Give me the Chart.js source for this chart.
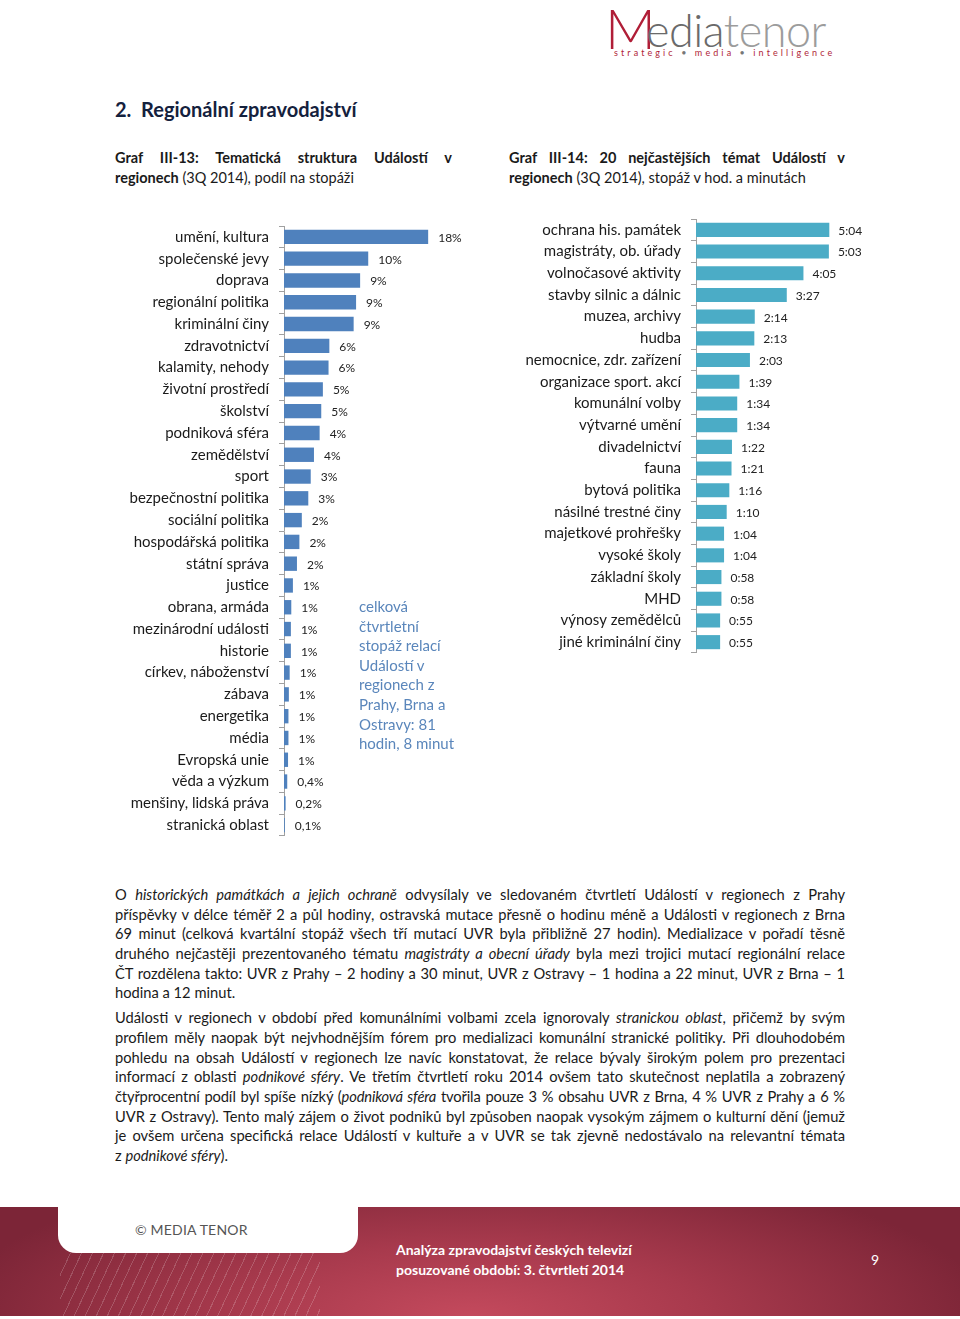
<!DOCTYPE html>
<html lang="cs">
<head>
<meta charset="utf-8">
<title>Regionální zpravodajství</title>
<script src="https://cdn.jsdelivr.net/npm/chart.js@4.4.0/dist/chart.umd.min.js"></script>
<style>
  html, body { margin: 0; padding: 0; background: #fff; }
  body { width: 960px; height: 1319px; position: relative; overflow: hidden; font-family: Lato, "Open Sans", sans-serif; color: #1a1a1a; }
  .abs { position: absolute; }
  #logo { left: 600px; top: 0px; width: 250px; height: 60px; }
  #logo .m { position: absolute; left: 5px; top: -6px; font-size: 56px; font-weight: 300; color: #b01e37; font-family: Lato, sans-serif; letter-spacing: -2px; }
  #logo .word { position: absolute; left: 46px; top: 3px; font-size: 45px; font-weight: 300; letter-spacing: -0.5px; }
  #logo .word .a { color: #6a6a6a; }
  #logo .word .b { color: #9c9c9c; }
  #logo .tag { position: absolute; left: 14px; top: 47px; font-size: 9px; letter-spacing: 3.1px; color: #b01e37; white-space: nowrap; }
  #logo .tag span { color: #777; }
  h1 { position: absolute; left: 115px; top: 97px; margin: 0; font-size: 20px; font-weight: 700; color: #14213d; }
  .cap { position: absolute; font-size: 14.5px; line-height: 20px; }
  .cap .l1 { text-align: justify; text-align-last: justify; white-space: nowrap; }
  .canvasBox { position: absolute; }
  #note { left: 359px; top: 597px; width: 130px; font-size: 15px; line-height: 19.6px; color: #5a86bb; white-space: nowrap; }
  #text { left: 115px; top: 885px; width: 730px; font-size: 14.7px; line-height: 19.7px; color: #1a1a1a; }
  #text .ln { text-align: justify; text-align-last: justify; white-space: nowrap; height: 19.7px; }
  #text .end { text-align-last: left; }
  #text .gap { height: 5px; }
  #footer { left: 0; top: 1207px; width: 960px; height: 109px;
    background: radial-gradient(ellipse 520px 160px at 470px 110px, #c44a5d 0%, #a83a4d 45%, #7c2537 100%); }
  #footer .lines { position: absolute; left: 60px; top: 46px; width: 260px; height: 63px; opacity: 0.18;
    background: repeating-linear-gradient(115deg, transparent 0 9px, #fff 9px 10px); }
  #tab { left: 58px; top: 1200px; width: 300px; height: 53px; background: #fff; border-radius: 0 0 18px 18px; }
  #tab div { position: absolute; left: 77px; top: 21px; font-size: 14px; color: #555; letter-spacing: 0.2px; }
  .ft { color: #fff; font-weight: 700; font-size: 14px; }
</style>
</head>
<body>

<div id="logo" class="abs">
  <div class="m">M</div>
  <div class="word"><span class="a">edia</span><span class="b">tenor</span></div>
  <div class="tag">strategic <span>•</span> media <span>•</span> intelligence</div>
</div>

<h1>2.&nbsp; Regionální zpravodajství</h1>

<div class="cap" style="left:115px; top:148px; width:337px;">
  <div class="l1"><b>Graf III-13: Tematická struktura Událostí v</b></div>
  <div><b>regionech</b> (3Q 2014), podíl na stopáži</div>
</div>
<div class="cap" style="left:509px; top:148px; width:336px;">
  <div class="l1"><b>Graf III-14: 20 nejčastějších témat Událostí v</b></div>
  <div><b>regionech</b> (3Q 2014), stopáž v hod. a minutách</div>
</div>

<div class="canvasBox" style="left:115px; top:226px; width:365px; height:610px;"><canvas id="shareChart"></canvas></div>
<div class="canvasBox" style="left:500px; top:219px; width:460px; height:434px;"><canvas id="timeChart"></canvas></div>

<div id="note" class="abs">celková<br>čtvrtletní<br>stopáž relací<br>Událostí v<br>regionech z<br>Prahy, Brna a<br>Ostravy: 81<br>hodin, 8 minut</div>

<div id="text" class="abs">
  <div class="ln">O <i>historických památkách a jejich ochraně</i> odvysílaly ve sledovaném čtvrtletí Událostí v regionech z Prahy</div>
  <div class="ln">příspěvky v délce téměř 2 a půl hodiny, ostravská mutace přesně o hodinu méně a Události v regionech z Brna</div>
  <div class="ln">69 minut (celková kvartální stopáž všech tří mutací UVR byla přibližně 27 hodin). Medializace v pořadí těsně</div>
  <div class="ln">druhého nejčastěji prezentovaného tématu <i>magistráty a obecní úřady</i> byla mezi trojici mutací regionální relace</div>
  <div class="ln">ČT rozdělena takto: UVR z Prahy – 2 hodiny a 30 minut, UVR z Ostravy – 1 hodina a 22 minut, UVR z Brna – 1</div>
  <div class="ln end">hodina a 12 minut.</div>
  <div class="gap"></div>
  <div class="ln">Události v regionech v období před komunálními volbami zcela ignorovaly <i>stranickou oblast</i>, přičemž by svým</div>
  <div class="ln">profilem měly naopak být nejvhodnějším fórem pro medializaci komunální stranické politiky. Při dlouhodobém</div>
  <div class="ln">pohledu na obsah Událostí v regionech lze navíc konstatovat, že relace bývaly širokým polem pro prezentaci</div>
  <div class="ln">informací z oblasti <i>podnikové sféry</i>. Ve třetím čtvrtletí roku 2014 ovšem tato skutečnost neplatila a zobrazený</div>
  <div class="ln" style="letter-spacing:-0.15px">čtyřprocentní podíl byl spíše nízký (<i>podniková sféra</i> tvořila pouze 3 % obsahu UVR z Brna, 4 % UVR z Prahy a 6 %</div>
  <div class="ln">UVR z Ostravy). Tento malý zájem o život podniků byl způsoben naopak vysokým zájmem o kulturní dění (jemuž</div>
  <div class="ln">je ovšem určena specifická relace Událostí v kultuře a v UVR se tak zjevně nedostávalo na relevantní témata</div>
  <div class="ln end">z <i>podnikové sféry</i>).</div>
</div>

<div id="footer" class="abs"><div class="lines"></div></div>
<div id="tab" class="abs"><div>© MEDIA TENOR</div></div>
<div class="abs ft" style="left:396px; top:1241px;">Analýza zpravodajství českých televizí</div>
<div class="abs ft" style="left:396px; top:1261px;">posuzované období: 3. čtvrtletí 2014</div>
<div class="abs" style="left:871px; top:1251px; color:#fff; font-size:14px;">9</div>

<script>
// Graf III-13: podíl témat na stopáži (%)
const shareTopics = [
    "umění, kultura", "společenské jevy", "doprava", "regionální politika", "kriminální činy",
    "zdravotnictví", "kalamity, nehody", "životní prostředí", "školství", "podniková sféra",
    "zemědělství", "sport", "bezpečnostní politika", "sociální politika", "hospodářská politika",
    "státní správa", "justice", "obrana, armáda", "mezinárodní události", "historie",
    "církev, náboženství", "zábava", "energetika", "média", "Evropská unie",
    "věda a výzkum", "menšiny, lidská práva", "stranická oblast"
];
const shareValues = [
    17.8, 10.4, 9.4, 8.9, 8.6,
    5.6, 5.5, 4.8, 4.6, 4.4,
    3.7, 3.3, 3.0, 2.2, 1.9,
    1.6, 1.1, 0.9, 0.85, 0.85,
    0.7, 0.6, 0.55, 0.55, 0.5,
    0.4, 0.2, 0.1
];

// Graf III-14: 20 nejčastějších témat, stopáž v minutách
const timeTopics = [
    "ochrana his. památek", "magistráty, ob. úřady", "volnočasové aktivity", "stavby silnic a dálnic",
    "muzea, archivy", "hudba", "nemocnice, zdr. zařízení", "organizace sport. akcí",
    "komunální volby", "výtvarné umění", "divadelnictví", "fauna",
    "bytová politika", "násilné trestné činy", "majetkové prohřešky", "vysoké školy",
    "základní školy", "MHD", "výnosy zemědělců", "jiné kriminální činy"
];
const timeMinutes = [
    304, 303, 245, 207,
    134, 133, 123, 99,
    94, 94, 82, 81,
    76, 70, 64, 64,
    58, 58, 55, 55
];

const fmtShare = v => v < 0.5 ? v.toFixed(1).replace(".", ",") + "%" : Math.round(v) + "%";
const fmtTime = m => Math.floor(m / 60) + ":" + String(m % 60).padStart(2, "0");

// popisky hodnot za koncem sloupce
const valueLabels = {
    id: "valueLabels",
    afterDatasetsDraw(chart, args, opts) {
        const ctx = chart.ctx;
        const meta = chart.getDatasetMeta(0);
        ctx.save();
        ctx.font = "12px Lato";
        ctx.fillStyle = "#222";
        ctx.textBaseline = "middle";
        meta.data.forEach((bar, i) => {
            const v = chart.data.datasets[0].data[i];
            ctx.fillText(opts.format(v), bar.x + opts.gap, bar.y + 1);
        });
        ctx.restore();
    }
};

function barOptions(axisWidth, xMax, format, gap) {
    return {
        indexAxis: "y",
        responsive: true,
        maintainAspectRatio: false,
        animation: false,
        layout: { padding: 0 },
        plugins: {
            legend: { display: false },
            tooltip: { enabled: false },
            valueLabels: { format: format, gap: gap }
        },
        scales: {
            x: { display: false, min: 0, max: xMax },
            y: {
                grid: { offset: true, drawOnChartArea: false, drawTicks: true, tickLength: 5, color: "#a0a0a0" },
                border: { display: true, color: "#a0a0a0" },
                ticks: { color: "#1a1a1a", font: { family: "Lato", size: 15 }, padding: 10, autoSkip: false },
                afterFit(scale) {
                    scale.width = axisWidth;
                    scale.paddingTop = 0;
                    scale.paddingBottom = 0;
                }
            }
        }
    };
}

new Chart(document.getElementById("shareChart"), {
    type: "bar",
    data: {
        labels: shareTopics,
        datasets: [{ data: shareValues, backgroundColor: "#4f81bd", barPercentage: 0.66, categoryPercentage: 1 }]
    },
    options: barOptions(169, 24.2, fmtShare, 10),
    plugins: [valueLabels]
});

new Chart(document.getElementById("timeChart"), {
    type: "bar",
    data: {
        labels: timeTopics,
        datasets: [{ data: timeMinutes, backgroundColor: "#4bacc6", barPercentage: 0.65, categoryPercentage: 1 }]
    },
    options: barOptions(196, 602, fmtTime, 9),
    plugins: [valueLabels]
});
</script>
</body>
</html>
